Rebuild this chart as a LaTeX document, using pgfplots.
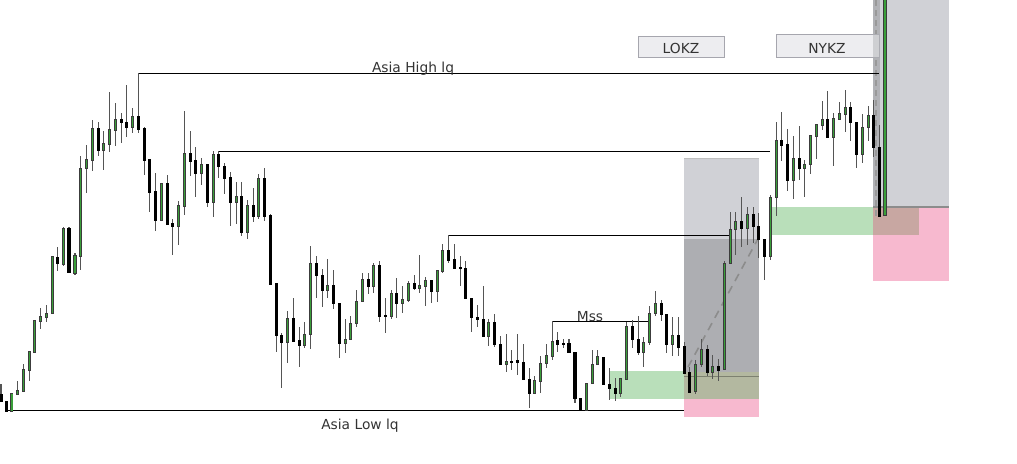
\documentclass[border=0pt]{standalone}
\usepackage{pgfplots}
\pgfplotsset{compat=1.18}
\usepackage{pgfplotstable}
\usepackage{fontspec}
\setmainfont{DejaVu Sans}

\definecolor{candleg}{HTML}{3A9E3A}
\definecolor{candleo}{HTML}{3C3C3C}
\definecolor{wickc}{HTML}{555555}
\definecolor{lgray}{HTML}{D0D1D6}
\definecolor{dgray}{HTML}{ADAEB2}
\definecolor{zgreen}{HTML}{B9DFBA}
\definecolor{zpink}{HTML}{F7B9CF}
\definecolor{olive}{HTML}{B3B8A0}
\definecolor{brownz}{HTML}{C8A7A2}
\definecolor{boxfill}{HTML}{EDEDF0}
\definecolor{boxline}{HTML}{A6A6AE}
\definecolor{textc}{HTML}{333333}

% candles in pixel coordinates: x, wick top, body top, body bottom, wick bottom
\pgfplotstableread{
x wt bt bb wb
11.7 392.7 394 411 411
17.3 381 391 394.3 394.3
23.3 364 370 391.7 391.7
29.3 352 352 370.7 381
34.3 319.5 320.7 352.7 352.7
40.3 308.3 317 321.7 328.7
46.3 305 313.3 317.7 321.7
52.3 256 257 313.3 313.3
63.3 226.7 229 264 265.7
75 252.7 256 273.3 275
80.3 156 168.3 256.7 270
86.3 145 159.3 168.7 192.7
92.3 120 128.3 160 170.7
103.3 130.7 144 150 170
109.3 92 129.3 144.3 151.7
115.3 102.7 119.3 130 146
132.3 108 117 127.7 133
161.3 184 184 220.7 220.7
178.3 200.7 206 226.7 245
184.3 110.7 154 206.7 215
201.3 158 165 173.7 185
213.3 150.7 155 202.7 216.7
236.3 182 197 202.7 224
247.3 200 206 232 238.7
258.5 174 179 216.7 218.7
287.3 311 318.3 342.3 363.3
304.3 322.3 334.3 345.7 348.3
310.3 246 263.3 334.3 349.3
327.3 258.7 286 290.7 297.7
345.3 319.3 339.3 343.3 352.7
350.3 316 323.3 339.3 340
356.3 290 301.3 323.3 326.7
362.3 272.7 280 301.3 302.3
373.3 262.7 266 286.7 292.7
391.3 290 293.3 316.7 319.3
402.3 285.7 300 303.3 312.7
408.3 280.7 283.3 300.7 301.7
419.3 255 286 288.3 292.7
425.3 276.7 281 286.7 306
437.3 270 271 291.7 302.3
442.3 244 251 271.7 272.7
488.3 319 322.3 336.7 345.7
506.3 334 361.7 364.3 372
534.3 375.7 381 393.3 393.3
540.3 355.7 363.3 381.7 392.7
546.3 344.3 356 363.3 368.3
552.3 321 341.7 356 360
586.3 383.3 383.3 410.7 410.7
592.3 350 364.3 383.3 383.3
597.3 350 356.7 364.3 364.3
620.3 377.7 378.3 393.3 396.7
626.3 321.7 327 379 379
643.3 336.7 342.3 352.7 366.7
649.3 306 313.3 342.3 345
655.3 291 303.3 313.3 316
672.3 317 335.5 344 356
695.3 360 364.3 391.7 394
701.3 339 349.3 364.3 366.7
712.3 355 366.5 372.7 378.7
724.3 261 263.3 369.3 370
730.3 212.3 229.3 263.3 263.3
735.3 212.3 222 229.3 255
747.3 206.7 215 228.3 245
770.3 195 197.3 256.7 260
776.3 121.7 141 197.3 215.7
793.3 136 158.3 180.7 198.7
804.3 160 164.3 168.7 196.7
810.3 136 136 164.3 174
816.3 125 125 136.7 159
822.3 101 119.3 125.7 130
833.3 112.7 119 137.3 166
839.3 102.3 114 119.3 119.3
845.3 90 107.3 114.3 131.7
862.3 114.3 127.3 154.3 162.7
868.3 106 116 127.3 140.7
885 -5 -5 215 216
}\bull

\pgfplotstableread{
x wt bt bb wb
1 384 395 401.7 402
6.3 401.7 401.7 411 411
57.3 247 257.3 263.3 270.7
69 226.7 229 272.7 272.7
98.3 122 128.3 150 156
121.3 112.7 119.3 122.7 143.3
126.3 85 122.7 127.7 137.3
138.3 73 117 129.7 133.3
144.3 126.7 129 160.7 175
149.3 158.7 159.7 192.7 211.7
155.3 173.3 192 220.7 231
167.3 175 184 224.3 224.3
172.3 219 224 226.7 255
190.3 130.7 154 161.7 176
195.3 146.7 160.7 173.7 196.7
207.3 165 165 202.7 207
218.3 151 155 166.7 178.3
224.3 162.7 166.3 178.7 194.3
230.3 172 178 202.7 225.7
241.3 182 197 232 235.7
253.3 188 206 216.7 221.7
264.3 168.3 179 216.7 220.7
270.3 214 216 284 285
276.3 283.3 283.3 335.7 351.7
281.7 332.7 335.7 342.3 388.3
293.3 297.7 318.3 341.7 341.7
299.3 326.7 341 345.7 366.7
316.3 256 263.3 275.7 297.7
322.3 269.3 275.3 290.7 306.7
333.3 270 286 303.3 309.3
339.3 303.3 303.3 343.3 357.7
368.3 273.3 280 286.7 294
379.3 261 266 316.7 321.7
385.3 297.7 315.5 316.5 332.7
396.3 277.7 293.3 303.3 318.3
414.3 275 283.3 288.3 290
431.3 281 281 291.7 303.3
448.3 235.3 251 260.7 263.3
454.3 244 260 268.3 269.3
460.3 256 267.8 268.8 285.7
465.3 260.7 268.3 298.3 298.3
471.3 298.3 298.3 317.7 331.7
477.3 305 317.3 319.3 326.7
483.3 285.7 319.3 336.7 336.7
494.3 314 322.3 344.3 346.7
500.3 336 344.3 364.3 364.3
511.7 350 361.2 362.2 370
517.3 334 361 362.7 375
523.3 344 362.3 379.3 379.3
529.3 368.3 379.3 393.3 407.7
557.3 331.7 341 344.3 351.7
563.3 339.3 343.8 344.8 348.3
569 339 344 352.3 353.3
575 352.3 352.3 398.3 402.7
580.3 398.3 398.3 410.7 410.7
603.3 357.3 357.3 384 384
609.3 368.3 384.3 388.7 400
615.3 378.3 388.3 393.3 400.7
632.3 320 327 339.3 348.3
638.3 316 339.3 352.7 355
661.3 300 303.3 314.3 321
666.3 314.3 314.3 344 353.3
678.3 316.7 335.5 347.3 355.7
684.3 342.3 347 373.3 373.3
689.3 366.7 373 392 393.3
707.3 345 349.3 372.7 376
718.3 359.3 366.5 370 380.7
741.3 196.7 222 228.3 246.7
753.3 206.7 215 226.7 243.3
758.3 213.3 226.7 239.3 258
764.3 239.3 239.3 256.7 280
781.3 112 141 145.7 160.7
787.3 129 145 180.7 190.7
799.3 125.7 158.3 168.7 180
827.3 91 119.3 137.3 138.3
850.3 102.3 107.3 122.3 140.7
856.3 122.3 122.3 154.3 167.7
873.3 100 116 147.3 156.7
879.3 125 147.3 216 216.7
}\bear

\begin{document}
\begin{tikzpicture}
\begin{axis}[
    width=508.5pt, height=231.5pt, scale only axis,
    axis lines=none, ticks=none,
    xmin=0, xmax=1017, ymin=0, ymax=463,
    y dir=reverse,
    clip=true
]

% zones (left session)
\fill[lgray] (684,158) rectangle (758.5,239);
\fill[dgray] (684,239) rectangle (758.5,372);
\fill[zgreen] (609,371) rectangle (684,399);
\fill[olive] (684,372) rectangle (758.5,399);
\fill[zpink] (684,399) rectangle (758.5,417);
\draw[line width=0.4pt, color=black!25] (684,158) -- (758.5,158);
\draw[line width=0.5pt, color=black!30!olive] (684,376.7) -- (758.5,376.7);
\draw[line width=0.8pt, color=black!45, dash pattern=on 4pt off 3pt] (688,367) -- (759,237);

% zones (right session)
\fill[lgray] (873,0) rectangle (949,207);
\fill[lgray!85!black] (873,0) rectangle (880,207);
\fill[zgreen] (770,207) rectangle (873,235);
\fill[zpink] (873,207) rectangle (949,281);
\fill[brownz] (873,207) rectangle (919,235);
\draw[line width=0.6pt, color=black!45] (873,207) -- (949,207);
\draw[line width=0.8pt, color=black!40, dash pattern=on 3pt off 2pt] (876,0) -- (876,216);

% liquidity lines
\draw[line width=0.5pt] (138.3,73.5) -- (879,73.5);
\draw[line width=0.5pt] (218.3,151.5) -- (770,151.5);
\draw[line width=0.5pt] (448.3,235.5) -- (730,235.5);
\draw[line width=0.5pt] (552.3,321.5) -- (648,321.5);
\draw[line width=0.5pt] (6,410.5) -- (684,410.5);

% wicks
\addplot[forget plot, draw=none, mark=none,
    error bars/.cd, y dir=both, y explicit, error mark=none,
    error bar style={solid, line width=0.55pt, draw=wickc}]
    table[x=x, y expr={(\thisrow{wt}+\thisrow{wb})/2},
          y error expr={(\thisrow{wb}-\thisrow{wt})/2}] {\bull};
\addplot[forget plot, draw=none, mark=none,
    error bars/.cd, y dir=both, y explicit, error mark=none,
    error bar style={solid, line width=0.55pt, draw=wickc}]
    table[x=x, y expr={(\thisrow{wt}+\thisrow{wb})/2},
          y error expr={(\thisrow{wb}-\thisrow{wt})/2}] {\bear};

% bull bodies: outline then fill
\addplot[forget plot, draw=none, mark=none,
    error bars/.cd, y dir=both, y explicit, error mark=none,
    error bar style={solid, line width=1.75pt, draw=candleo}]
    table[x=x, y expr={(\thisrow{bt}+\thisrow{bb})/2},
          y error expr={(\thisrow{bb}-\thisrow{bt})/2+0.6}] {\bull};
\addplot[forget plot, draw=none, mark=none,
    error bars/.cd, y dir=both, y explicit, error mark=none,
    error bar style={solid, line width=0.8pt, draw=candleg}]
    table[x=x, y expr={(\thisrow{bt}+\thisrow{bb})/2},
          y error expr={max((\thisrow{bb}-\thisrow{bt})/2-0.4,0.2)}] {\bull};

% bear bodies
\addplot[forget plot, draw=none, mark=none,
    error bars/.cd, y dir=both, y explicit, error mark=none,
    error bar style={solid, line width=1.75pt, draw=black}]
    table[x=x, y expr={(\thisrow{bt}+\thisrow{bb})/2},
          y error expr={(\thisrow{bb}-\thisrow{bt})/2+0.6}] {\bear};

% session boxes
\filldraw[fill=boxfill, draw=boxline, line width=0.5pt] (638.3,36) rectangle (724.3,57.3);
\filldraw[fill=boxfill, draw=boxline, line width=0.5pt] (776,34.3) rectangle (879.3,57.3);
\fill[lgray!85!black, opacity=0.5] (873,34) rectangle (880,58);

% labels
\node[text=textc, font=\fontsize{6.9}{8}\selectfont] at (681,48.5) {LOKZ};
\node[text=textc, font=\fontsize{6.9}{8}\selectfont] at (827,48.5) {NYKZ};
\node[text=textc, font=\fontsize{6.9}{8}\selectfont] at (413,68.5) {Asia High lq};
\node[text=textc, font=\fontsize{6.9}{8}\selectfont] at (590,316.5) {Mss};
\node[text=textc, font=\fontsize{6.9}{8}\selectfont] at (360,426) {Asia Low lq};

\end{axis}
\pgfresetboundingbox
\useasboundingbox (current axis.south west) rectangle (current axis.north east);
\end{tikzpicture}
\end{document}
